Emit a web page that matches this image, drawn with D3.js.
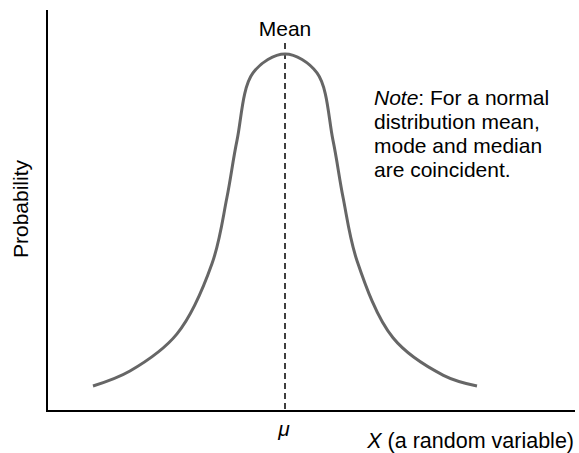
<!DOCTYPE html>
<html>
<head>
<meta charset="utf-8">
<script src="https://cdn.jsdelivr.net/npm/d3@7"></script>
<style>
  body { margin: 0; background: #fff; }
  text { font-family: "Liberation Sans", Arial, sans-serif; fill: #000; }
</style>
</head>
<body>
<div id="chart"></div>
<script>
// curve: x in sigma units around the mean, y relative to the peak
var curveX = [-4, -3.23, -2.25, -1.52, -1.21, -1.0, -0.667, 0, 0.667, 1.0, 1.21, 1.5, 2.25, 3.3, 4];
var curveY = [0.070, 0.112, 0.216, 0.413, 0.598, 0.758, 0.947, 1.0, 0.947, 0.758, 0.598, 0.421, 0.205, 0.100, 0.070];
var meanX = 0;
var noteLines = ["distribution mean,", "mode and median", "are coincident."];

var W = 579, H = 453;
var margin = { top: 10, right: 4, bottom: 42, left: 47 };
var fs = "21px";

var svg = d3.select("#chart").append("svg")
    .attr("width", W)
    .attr("height", H);

var x = d3.scaleLinear().domain([-4, 4]).range([93, 477]);
var y = d3.scaleLinear().domain([0, 1]).range([H - margin.bottom, 54]);

// axes (no ticks)
svg.append("line")
    .attr("x1", margin.left).attr("x2", margin.left)
    .attr("y1", margin.top).attr("y2", H - margin.bottom + 1)
    .attr("stroke", "#000").attr("stroke-width", 2);
svg.append("line")
    .attr("x1", margin.left - 1).attr("x2", W - margin.right)
    .attr("y1", H - margin.bottom).attr("y2", H - margin.bottom)
    .attr("stroke", "#000").attr("stroke-width", 2);

// mean line
svg.append("line")
    .attr("x1", x(meanX)).attr("x2", x(meanX))
    .attr("y1", 43).attr("y2", H - margin.bottom)
    .attr("stroke", "#000").attr("stroke-width", 1.5)
    .attr("stroke-dasharray", "6,4");

var pts = curveX.map(function (d, i) { return [x(d), y(curveY[i])]; });
svg.append("path")
    .attr("fill", "none")
    .attr("stroke", "#666")
    .attr("stroke-width", 3)
    .attr("d", d3.line().curve(d3.curveCatmullRom.alpha(0.5))(pts));

svg.append("text")
    .attr("x", x(meanX)).attr("y", 36)
    .attr("text-anchor", "middle")
    .style("font-size", fs)
    .text("Mean");

svg.append("text")
    .attr("x", x(meanX) - 1).attr("y", 436)
    .attr("text-anchor", "middle")
    .style("font-size", fs)
    .style("font-style", "italic")
    .text("\u03bc");

var xl = svg.append("text")
    .attr("x", 574).attr("y", 448)
    .attr("text-anchor", "end")
    .style("font-size", "21.5px");
xl.append("tspan").style("font-style", "italic").text("X");
xl.append("tspan").text(" (a random variable)");

svg.append("text")
    .attr("transform", "translate(28,209) rotate(-90)")
    .attr("text-anchor", "middle")
    .style("font-size", fs)
    .text("Probability");

var note = svg.append("text")
    .attr("x", 374).attr("y", 105)
    .style("font-size", fs);
note.append("tspan").style("font-style", "italic").text("Note");
note.append("tspan").text(": For a normal");
noteLines.forEach(function (l, i) {
    svg.append("text")
        .attr("x", 374).attr("y", 129 + i * 24)
        .style("font-size", fs)
        .text(l);
});
</script>
</body>
</html>
